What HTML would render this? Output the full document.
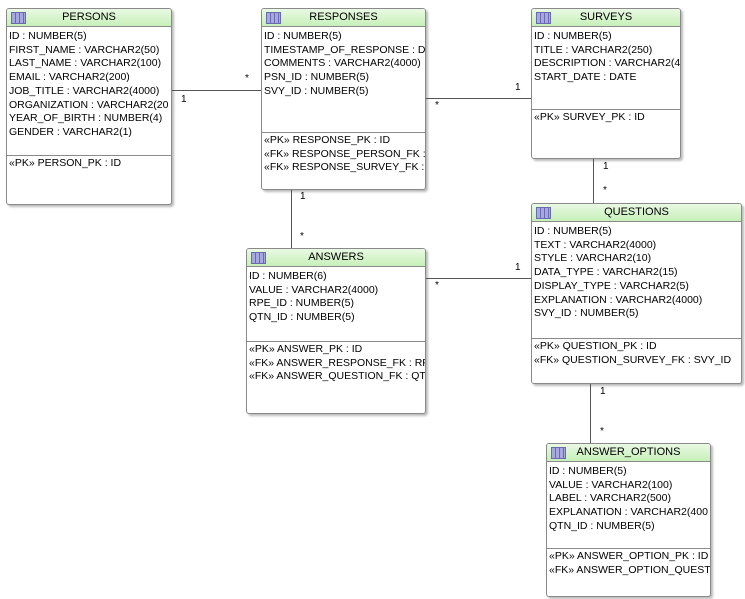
<!DOCTYPE html>
<html><head><meta charset="utf-8"><style>
body{margin:0;width:745px;height:599px;background:#fff;position:relative;overflow:hidden;font-family:"Liberation Sans",sans-serif;font-size:10.5px;color:#000}
.t{position:absolute;border:1px solid #8a8a8a;border-radius:3px;background:#fff;box-shadow:2px 2px 2px #bbb;overflow:hidden}
.h{height:17px;border-bottom:1px solid #8a8a8a;background:linear-gradient(#eaf9e4,#c6f0b8);text-align:center;line-height:16px;font-size:11px;position:relative}
.ic{position:absolute;left:4px;top:3px;width:13px;height:10px;border:1px solid #6a6ab0;background:repeating-linear-gradient(90deg,#a8a8e0 0 3px,#6a6ab0 3px 4px);}
.r{white-space:nowrap;line-height:13.7px;padding-left:2px}
.s{position:absolute;left:0;right:0;border-top:1px solid #8a8a8a}
.ln{position:absolute;background:#555}
.lb{position:absolute;font-size:10px}
</style></head><body>

<div class="t" style="left:6px;top:8px;width:164px;height:195px">
<div class="h"><span class="ic"></span>PERSONS</div>
<div style="padding-top:3px">
<div class="r">ID : NUMBER(5)</div><div class="r">FIRST_NAME : VARCHAR2(50)</div><div class="r">LAST_NAME : VARCHAR2(100)</div><div class="r">EMAIL : VARCHAR2(200)</div><div class="r">JOB_TITLE : VARCHAR2(4000)</div><div class="r">ORGANIZATION : VARCHAR2(20</div><div class="r">YEAR_OF_BIRTH : NUMBER(4)</div><div class="r">GENDER : VARCHAR2(1)</div></div>
<div class="s" style="top:146px"></div>
<div style="position:absolute;top:148px"><div class="r">«PK» PERSON_PK : ID</div></div>
</div>

<div class="t" style="left:261px;top:8px;width:163px;height:180px">
<div class="h"><span class="ic"></span>RESPONSES</div>
<div style="padding-top:3px">
<div class="r">ID : NUMBER(5)</div><div class="r">TIMESTAMP_OF_RESPONSE : DA</div><div class="r">COMMENTS : VARCHAR2(4000)</div><div class="r">PSN_ID : NUMBER(5)</div><div class="r">SVY_ID : NUMBER(5)</div></div>
<div class="s" style="top:123px"></div>
<div style="position:absolute;top:125px"><div class="r">«PK» RESPONSE_PK : ID</div><div class="r">«FK» RESPONSE_PERSON_FK : P</div><div class="r">«FK» RESPONSE_SURVEY_FK : S</div></div>
</div>

<div class="t" style="left:531px;top:8px;width:148px;height:149px">
<div class="h"><span class="ic"></span>SURVEYS</div>
<div style="padding-top:3px">
<div class="r">ID : NUMBER(5)</div><div class="r">TITLE : VARCHAR2(250)</div><div class="r">DESCRIPTION : VARCHAR2(40</div><div class="r">START_DATE : DATE</div></div>
<div class="s" style="top:100px"></div>
<div style="position:absolute;top:102px"><div class="r">«PK» SURVEY_PK : ID</div></div>
</div>

<div class="t" style="left:531px;top:203px;width:209px;height:179px">
<div class="h"><span class="ic"></span>QUESTIONS</div>
<div style="padding-top:3px">
<div class="r">ID : NUMBER(5)</div><div class="r">TEXT : VARCHAR2(4000)</div><div class="r">STYLE : VARCHAR2(10)</div><div class="r">DATA_TYPE : VARCHAR2(15)</div><div class="r">DISPLAY_TYPE : VARCHAR2(5)</div><div class="r">EXPLANATION : VARCHAR2(4000)</div><div class="r">SVY_ID : NUMBER(5)</div></div>
<div class="s" style="top:134px"></div>
<div style="position:absolute;top:136px"><div class="r">«PK» QUESTION_PK : ID</div><div class="r">«FK» QUESTION_SURVEY_FK : SVY_ID</div></div>
</div>

<div class="t" style="left:246px;top:248px;width:178px;height:164px">
<div class="h"><span class="ic"></span>ANSWERS</div>
<div style="padding-top:3px">
<div class="r">ID : NUMBER(6)</div><div class="r">VALUE : VARCHAR2(4000)</div><div class="r">RPE_ID : NUMBER(5)</div><div class="r">QTN_ID : NUMBER(5)</div></div>
<div class="s" style="top:92px"></div>
<div style="position:absolute;top:94px"><div class="r">«PK» ANSWER_PK : ID</div><div class="r">«FK» ANSWER_RESPONSE_FK : RPI</div><div class="r">«FK» ANSWER_QUESTION_FK : QTN</div></div>
</div>

<div class="t" style="left:546px;top:443px;width:163px;height:152px">
<div class="h"><span class="ic"></span>ANSWER_OPTIONS</div>
<div style="padding-top:3px">
<div class="r">ID : NUMBER(5)</div><div class="r">VALUE : VARCHAR2(100)</div><div class="r">LABEL : VARCHAR2(500)</div><div class="r">EXPLANATION : VARCHAR2(400</div><div class="r">QTN_ID : NUMBER(5)</div></div>
<div class="s" style="top:104px"></div>
<div style="position:absolute;top:106px"><div class="r">«PK» ANSWER_OPTION_PK : ID</div><div class="r">«FK» ANSWER_OPTION_QUESTIC</div></div>
</div>

<div class="ln" style="left:172px;top:90px;width:89px;height:1px"></div>
<div class="lb" style="left:181px;top:94px">1</div><div class="lb" style="left:245px;top:73px">*</div>
<div class="ln" style="left:426px;top:98px;width:105px;height:1px"></div>
<div class="lb" style="left:435px;top:100px">*</div><div class="lb" style="left:515px;top:82px">1</div>
<div class="ln" style="left:593px;top:159px;width:1px;height:44px"></div>
<div class="lb" style="left:603px;top:161px">1</div><div class="lb" style="left:603px;top:185px">*</div>
<div class="ln" style="left:291px;top:190px;width:1px;height:58px"></div>
<div class="lb" style="left:300px;top:191px">1</div><div class="lb" style="left:300px;top:231px">*</div>
<div class="ln" style="left:426px;top:278px;width:105px;height:1px"></div>
<div class="lb" style="left:435px;top:280px">*</div><div class="lb" style="left:515px;top:262px">1</div>
<div class="ln" style="left:590px;top:384px;width:1px;height:59px"></div>
<div class="lb" style="left:600px;top:386px">1</div><div class="lb" style="left:600px;top:426px">*</div>
</body></html>
